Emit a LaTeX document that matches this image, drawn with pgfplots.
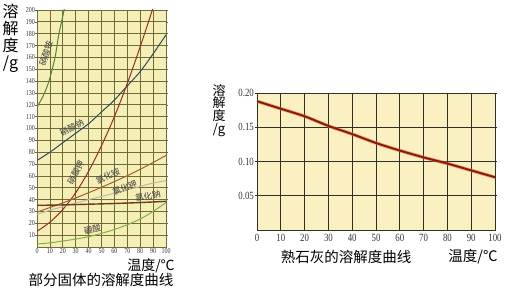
\documentclass[border=0pt]{standalone}
\usepackage{fontspec}
\usepackage{pgfplots}
\pgfplotsset{compat=1.18}
\newfontfamily\cjk{Noto Sans CJK SC}
\newfontfamily\tickfont[FakeStretch=0.8]{Liberation Serif}
\definecolor{bgL}{HTML}{F5EFB6}
\definecolor{bgR}{HTML}{FBF0C2}
\definecolor{gridL}{HTML}{6E6C3C}
\definecolor{gridR}{HTML}{2E3222}
\definecolor{cNH4NO3}{HTML}{4E8A2E}
\definecolor{cNaNO3}{HTML}{2E4A5E}
\definecolor{cKNO3}{HTML}{962C1E}
\definecolor{cNH4Cl}{HTML}{A8602A}
\definecolor{cKCl}{HTML}{B8BAA8}
\definecolor{cNaCl}{HTML}{6A3A1E}
\definecolor{cH3BO3}{HTML}{86AE48}
\definecolor{caDark}{HTML}{8B1A0A}
\definecolor{caGlow}{HTML}{E8743A}
\begin{document}
\begin{tikzpicture}[x=1pt,y=1pt]
\useasboundingbox (0,0) rectangle (509,288);
% ---------------- left chart ----------------
\begin{axis}[
  at={(37pt,41pt)}, anchor=south west, scale only axis,
  width=129pt, height=237pt,
  xmin=0, xmax=100, ymin=0, ymax=200,
  xtick={0,10,...,100}, ytick={10,20,...,200},
  grid=major, major grid style={color=gridL, line width=0.7pt},
  axis line style={color=gridL, line width=0.7pt},
  axis background/.style={fill=bgL},
  tick style={color=gridL, line width=0.5pt}, tick align=outside,
  major tick length=2pt, xtick style={draw=none},
  tick label style={font=\tickfont\fontsize{7.5}{7.5}\selectfont, text=black!80, inner sep=1pt},
  /pgf/number format/assume math mode=true,
  xticklabel style={yshift=2pt}, yticklabel style={xshift=1pt},
]
\addplot[cNH4NO3, line width=1pt, smooth] coordinates {(0,118) (5,128) (9.3,140) (14,160) (17,180) (21,200) (23,215)};
\addplot[cNaNO3, line width=1pt, smooth] coordinates {(0,73) (10,80) (20,88) (30,96) (40,104) (50,114) (60,124) (70,136) (80,148) (90,163) (100,179)};
\addplot[cKNO3, line width=1pt, smooth] coordinates {(0,13.3) (10,20.9) (20,31.6) (30,45.8) (40,63.9) (50,85.5) (60,110) (70,138) (80,169) (90,202) (95,220)};
\addplot[cNH4Cl, line width=1pt, smooth] coordinates {(0,29.4) (10,33.3) (20,37.2) (30,41.4) (40,45.8) (50,50.4) (60,55.2) (70,60.2) (80,65.6) (90,71.3) (100,77.3)};
\addplot[cKCl, line width=1pt, smooth] coordinates {(0,27.6) (10,31.0) (20,34.0) (30,37.0) (40,40.0) (50,42.6) (60,45.5) (70,48.3) (80,51.1) (90,54.0) (100,56.0)};
\addplot[cNaCl, line width=1.4pt, smooth] coordinates {(0,35.2) (10,35.3) (20,35.5) (30,35.8) (40,36.1) (50,36.4) (60,36.7) (70,37.1) (80,37.5) (90,38.0) (100,38.5)};
\addplot[cH3BO3, line width=1pt, smooth] coordinates {(0,2.5) (10,3.5) (20,5.0) (30,6.7) (40,8.7) (50,11.5) (60,14.8) (70,18.8) (80,23.6) (90,30) (100,37.5)};
\begin{scope}[every node/.style={font=\cjk\fontsize{8.5}{8.5}\selectfont, text=black!75, inner sep=0.3pt}]
\node[rotate=72] at (axis cs:7,163) {硝酸铵};
\node[rotate=28] at (axis cs:27,101) {硝酸钠};
\node[rotate=62] at (axis cs:30,63) {硝酸钾};
\node[rotate=25] at (axis cs:55,60) {氯化铵};
\node[rotate=22] at (axis cs:68,50) {氯化钾};
\node[rotate=12] at (axis cs:86,43) {氯化钠};
\node[rotate=12] at (axis cs:43,15) {硼酸};
\end{scope}
\end{axis}
% ---------------- right chart ----------------
\begin{axis}[
  at={(257pt,58pt)}, anchor=south west, scale only axis,
  width=238pt, height=137pt,
  xmin=0, xmax=100, ymin=0, ymax=0.2,
  xtick={0,10,...,100}, ytick={0.05,0.10,0.15,0.20},
  yticklabel style={/pgf/number format/.cd, fixed, fixed zerofill, precision=2},
  grid=major, major grid style={color=gridR, line width=0.8pt},
  axis line style={color=gridR, line width=0.8pt},
  axis background/.style={fill=bgR},
  tick style={color=gridR, line width=0.5pt}, tick align=outside,
  major tick length=2pt, xtick style={draw=none},
  tick label style={font=\tickfont\fontsize{11}{11}\selectfont, text=black!80, inner sep=1pt},
  /pgf/number format/assume math mode=true,
  xticklabel style={yshift=-1pt},
]
\addplot[caGlow, line width=3.6pt, opacity=0.55, smooth] coordinates {(0,0.188) (10,0.177) (20,0.166) (30,0.152) (40,0.140) (50,0.127) (60,0.116) (70,0.106) (80,0.097) (90,0.087) (100,0.077)};
\addplot[caDark, line width=2pt, smooth] coordinates {(0,0.188) (10,0.177) (20,0.166) (30,0.152) (40,0.140) (50,0.127) (60,0.116) (70,0.106) (80,0.097) (90,0.087) (100,0.077)};
\end{axis}
% ---------------- texts ----------------
\node[font=\cjk\fontsize{16}{16.8}\selectfont, align=center, inner sep=0pt, anchor=north] at (10.5,284) {溶\\解\\度\\/g};
\node[font=\cjk\fontsize{14}{14}\selectfont, inner sep=0pt] at (151,22.5) {温度/℃};
\node[font=\cjk\fontsize{14.5}{15}\selectfont, inner sep=0pt] at (101,8.5) {部分固体的溶解度曲线};
\node[font=\cjk\fontsize{13}{12.8}\selectfont, align=center, inner sep=0pt, anchor=north] at (219,204) {溶\\解\\度\\/g};
\node[font=\cjk\fontsize{14.5}{15}\selectfont, inner sep=0pt] at (346,31) {熟石灰的溶解度曲线};
\node[font=\cjk\fontsize{14.5}{15}\selectfont, inner sep=0pt] at (473,31) {温度/℃};
\end{tikzpicture}
\end{document}
